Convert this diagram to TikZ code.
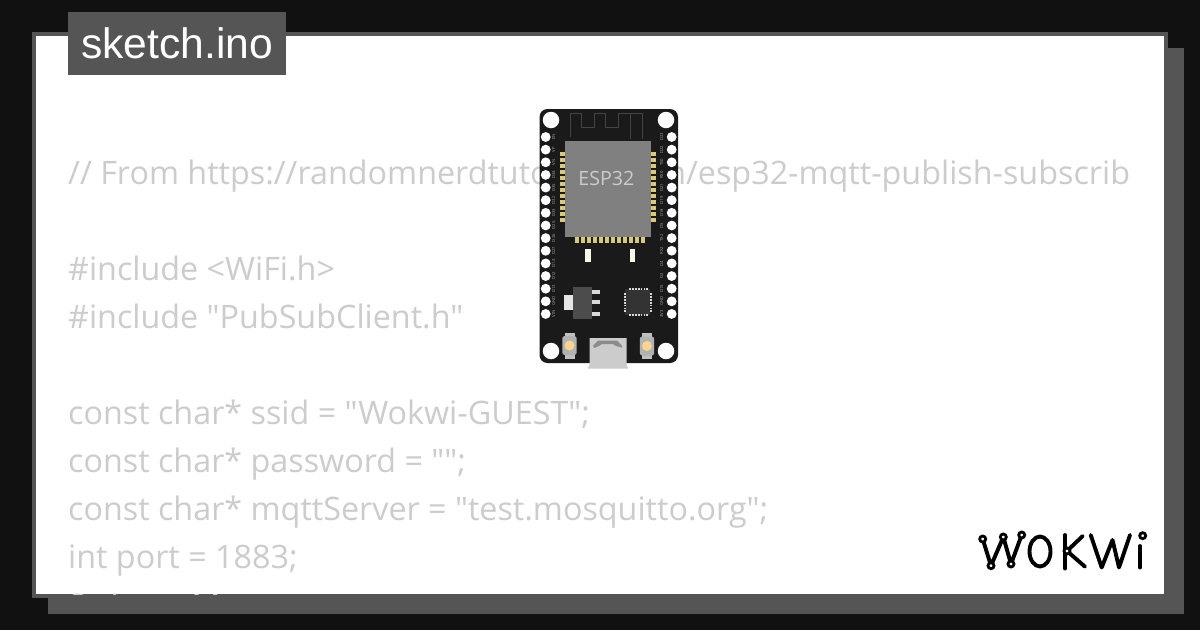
\documentclass[tikz,border=0pt]{standalone}
\usepackage{fontspec}
\setmainfont{Open Sans}[Ligatures=TeXOff]
\newfontfamily\tabfont{Liberation Sans}
\definecolor{pagedark}{HTML}{111111}
\definecolor{panelgray}{HTML}{555555}
\definecolor{codegray}{HTML}{CCCCCC}
\definecolor{boardblack}{HTML}{1A1A1A}
\definecolor{chipgray}{HTML}{808080}
\definecolor{padgold}{HTML}{D9C97A}
\definecolor{btngold}{HTML}{F8D58C}
\tikzset{
  codeline/.style={anchor=base west,inner sep=0pt,text=codegray,font=\fontsize{32.3}{32}\selectfont},
  pinhole/.style={circle,fill=white,inner sep=0pt,minimum size=9.8pt},
  mounthole/.style={circle,fill=white,inner sep=0pt,minimum size=16.5pt},
  pinlabel/.style={rotate=90,inner sep=0pt,text=codegray!80!black,font=\fontsize{4.2}{5}\selectfont},
  pad/.style={fill=padgold},
  smallpad/.style={fill=white!85!black},
  logoline/.style={line width=3.9pt,line cap=round,line join=round},
  logoring/.style={circle,draw=black,fill=white,line width=2.8pt,inner sep=0pt,minimum size=6pt}
}

\begin{document}
\begin{tikzpicture}[x=1pt,y=-1pt]
      % \draw[help lines](0,0) grid (1200,630);
      \useasboundingbox (0,0) rectangle (1200,630);
      \fill[pagedark] (0,0) rectangle (1200,630);

      \fill[panelgray] (48,48) rectangle (1184,614);
      \fill[panelgray] (32,32) rectangle (1168,598);
      \fill[white] (36,36) rectangle (1164,594);

      \begin{scope}
        \clip (36,36) rectangle (1164,594);
        \foreach \codey/\codetext [count=\i] in {
          184/{// From https://randomnerdtutorials.com/esp32-mqtt-publish-subscrib},
          280/{\#include <WiFi.h>},
          328/{\#include "PubSubClient.h"},
          424/{const char* ssid = "Wokwi-GUEST";},
          472/{const char* password = "";},
          520/{const char* mqttServer = "test.mosquitto.org";},
          568/{int port = 1883;},
          617.5/{String stMac;}}
          \draw (68,\codey) node[codeline] (code\i) {\codetext};
      \end{scope}

      \fill[panelgray] (68,12) rectangle (286,75);
      \draw (177,43.5) node[text=white,inner sep=0pt,font=\tabfont\fontsize{42.6}{42}\selectfont] (title) {sketch.ino};

      % board
      \fill[boardblack] (539.5,109) [rounded corners=8pt] rectangle (678,363);
      \draw (551,120) node[mounthole] (holetl) {};
      \draw (666,120) node[mounthole] (holetr) {};
      \draw (551,351) node[mounthole] (holebl) {};
      \draw (666,351) node[mounthole] (holebr) {};

      \draw[color=panelgray!80!black,line width=1pt] (570.3,137) -- (570.3,113) -- (581.3,113) -- (581.3,127.7) -- (594.7,127.7)
        -- (594.7,113) -- (605.3,113) -- (605.3,127.7) -- (618.7,127.7) -- (618.7,113) -- (642,113) -- (642,139)
        (630.3,113) -- (630.3,139);

      \foreach \name [count=\i] in {EN,VP,VN,D34,D35,D32,D33,D25,D26,D27,D14,D12,D13,GND,VIN}
        \draw (545.7,{137+12.64*(\i-1)}) node[pinhole] (pinl\i) {}
          (553.5,{137+12.64*(\i-1)}) node[pinlabel] (labl\i) {\name};
      \foreach \name [count=\i] in {D23,D22,TX0,RX0,D21,D19,D18,D5,TX2,RX2,D4,D2,D15,GND,3V3}
        \draw (671.7,{137+12.64*(\i-1)}) node[pinhole] (pinr\i) {}
          (661.6,{137+12.64*(\i-1)}) node[pinlabel] (labr\i) {\name};

      % chip
      \foreach \i in {0,...,11} {
        \fill[pad] (560,{152+6*\i}) rectangle +(5,4);
        \fill[pad] (651,{152+6*\i}) rectangle +(5,4);
      }
      \foreach \i in {0,...,11}
        \fill[pad] ({575+6*\i},236) rectangle +(4,6.5);
      \fill[chipgray] (565,141) rectangle (651,236.5);
      \draw (606.3,178) node[text=codegray,inner sep=0pt,font=\fontsize{19.6}{20}\selectfont] (chipname) {ESP32};

      % caps
      \fill[white!85!padgold] (585,249) rectangle (590.5,262);
      \fill[white!85!padgold] (629.5,249) rectangle (635,262);

      % regulator
      \fill[white!90!black] (564,295) rectangle (573.5,310);
      \fill[white!85!black] (592,289.5) rectangle (600,294);
      \fill[white!85!black] (592,300) rectangle (600,304);
      \fill[white!85!black] (592,312) rectangle (600,316);
      \fill[panelgray!90!black] (573,287) rectangle (592,318.5);

      % qfn
      \fill[black!80] (625,289) rectangle (650,315);
      \foreach \i in {0,...,6} {
        \fill[smallpad] ({629+2.9*\i},288) rectangle +(1.8,2.2);
        \fill[smallpad] ({629+2.9*\i},314) rectangle +(1.8,2.2);
        \fill[smallpad] (623.5,{293+2.9*\i}) rectangle +(2.2,1.8);
        \fill[smallpad] (649.5,{293+2.9*\i}) rectangle +(2.2,1.8);
      }

      % buttons
      \foreach \btnx/\btny/\btnname in {569.5/345.5/btnl,647/346/btnr} {
        \fill[gray!50] (\btnx-5,\btny-13) rectangle (\btnx+5,\btny+13);
        \fill[gray!60,rounded corners=2.5pt] (\btnx-7.2,\btny-9.5) rectangle (\btnx+7.2,\btny+9.5);
        \draw (\btnx,\btny) node[circle,fill=btngold,inner sep=0pt,minimum size=10pt] (\btnname) {};
      }

      % usb
      \fill[codegray] (589.5,338) -- (626.5,338) -- (626.5,364) -- (628,368.5) -- (588,368.5) -- (589.5,364) -- cycle;
      \fill[gray!90] (593,345.5) -- (598,340.5) -- (617,340.5) -- (622,345.5) -- (622,347.5) -- (616,346) -- (613,344) -- (602,344) -- (599,346) -- (594,348) -- cycle;

      % logo
      \draw[logoline] (982.7,539) -- (991,565.7) -- (1003.3,537) -- (1011,564) -- (1021.7,535);
      \draw[logoline] (1040,551.5) ellipse [x radius=10.5,y radius=15];
      \draw[logoline] (1065,535) -- (1065,568.5);
      \draw[logoline] (1082.7,536) -- (1067,551) -- (1085,566.7);
      \draw[logoline] (1090.7,535) -- (1101.7,567.5) -- (1112.5,540) -- (1119,567.5) -- (1130,535);
      \draw[logoline] (1140,546) -- (1140,567.5);
      \foreach \ringx/\ringy [count=\i] in {982.7/539,991/565.7,1003.3/537,1011/564,1021.7/535,1067/551,1142.7/535.7}
        \draw (\ringx,\ringy) node[logoring] (ring\i) {};
    \end{tikzpicture}
\end{document}
